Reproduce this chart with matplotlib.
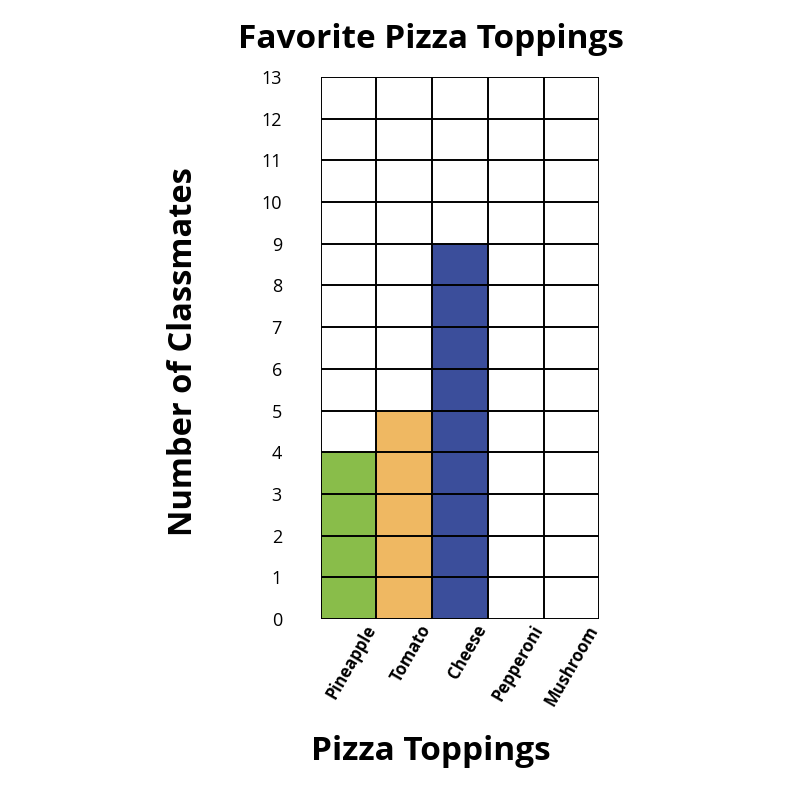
import matplotlib
matplotlib.use('Agg')
import matplotlib.pyplot as plt
import matplotlib.transforms as mtransforms

plt.rcParams['font.family'] = ['Open Sans', 'DejaVu Sans']

# 数据
toppings = ['Pineapple', 'Tomato', 'Cheese', 'Pepperoni', 'Mushroom']
counts = [4, 5, 9, 0, 0]
bar_colors = ['#89BD4A', '#EFB862', '#3B4E9B', '#FFFFFF', '#FFFFFF']
y_max = 13

fig = plt.figure(figsize=(8, 8), dpi=100)
ax = fig.add_axes([0.401, 0.226, 0.348, 0.678])

x = list(range(len(toppings)))
ax.bar(x, counts, width=1.0, align='edge', color=bar_colors, zorder=1)

# 网格
for i in range(len(toppings) + 1):
    ax.axvline(i, color='black', lw=1.4, zorder=3)
for j in range(y_max + 1):
    ax.axhline(j, color='black', lw=1.4, zorder=3)

ax.set_xlim(0, len(toppings))
ax.set_ylim(0, y_max)
for s in ax.spines.values():
    s.set_visible(False)

ax.set_yticks(range(y_max + 1))
ax.set_yticklabels([str(v) for v in range(y_max + 1)], fontsize=13)
ax.tick_params(axis='y', length=0, pad=28)

ax.set_xticks([v + 0.5 for v in x])
ax.set_xticklabels(toppings, rotation=60, ha='right', rotation_mode='anchor',
                   fontsize=12, fontweight='bold')
ax.tick_params(axis='x', length=0, pad=2)
offset = mtransforms.ScaledTranslation(0.15, 0, fig.dpi_scale_trans)
for lab in ax.get_xticklabels():
    lab.set_transform(lab.get_transform() + offset)

fig.text(0.539, 0.951, 'Favorite Pizza Toppings', ha='center', va='center',
         fontsize=24, fontweight='bold')
fig.text(0.539, 0.061, 'Pizza Toppings', ha='center', va='center',
         fontsize=24, fontweight='bold')
fig.text(0.229, 0.561, 'Number of Classmates', ha='center', va='center',
         rotation=90, fontsize=23.5, fontweight='bold')

plt.savefig('out.png', dpi=100)
